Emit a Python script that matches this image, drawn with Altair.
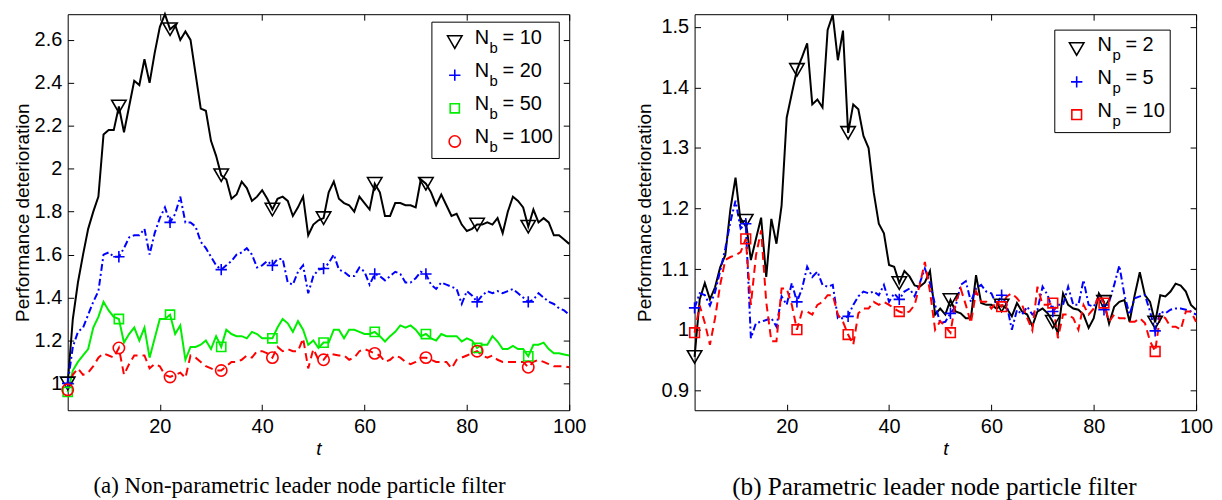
import altair as alt
import pandas as pd

T = list(range(2, 101))

NB10 = [1.00, 1.30, 1.47, 1.60, 1.72, 1.80, 1.87, 2.16, 2.18, 2.18,
        2.29, 2.17, 2.29, 2.41, 2.39, 2.51, 2.40, 2.54, 2.66, 2.72,
        2.65, 2.67, 2.60, 2.64, 2.60, 2.44, 2.28, 2.27, 2.13, 2.06,
        1.97, 1.95, 1.86, 1.88, 1.94, 1.91, 1.85, 1.87, 1.90, 1.86,
        1.81, 1.86, 1.87, 1.85, 1.78, 1.82, 1.87, 1.69, 1.74, 1.76,
        1.77, 1.89, 1.94, 1.86, 1.84, 1.83, 1.80, 1.87, 1.84, 1.81,
        1.93, 1.89, 1.78, 1.78, 1.84, 1.84, 1.83, 1.83, 1.82, 1.95,
        1.93, 1.89, 1.83, 1.88, 1.83, 1.78, 1.79, 1.74, 1.71, 1.72,
        1.74, 1.74, 1.75, 1.74, 1.77, 1.70, 1.80, 1.87, 1.85, 1.82,
        1.73, 1.81, 1.75, 1.77, 1.75, 1.69, 1.69, 1.67, 1.65]

NB20 = [1.00, 1.17, 1.24, 1.26, 1.32, 1.38, 1.43, 1.60, 1.61, 1.59,
        1.59, 1.63, 1.68, 1.69, 1.69, 1.72, 1.60, 1.70, 1.77, 1.82,
        1.75, 1.79, 1.87, 1.75, 1.75, 1.73, 1.66, 1.63, 1.59, 1.55,
        1.53, 1.55, 1.57, 1.60, 1.61, 1.63, 1.60, 1.54, 1.55, 1.57,
        1.55, 1.58, 1.58, 1.47, 1.46, 1.52, 1.55, 1.42, 1.50, 1.53,
        1.535, 1.56, 1.60, 1.53, 1.52, 1.50, 1.50, 1.54, 1.52, 1.46,
        1.51, 1.50, 1.48, 1.50, 1.52, 1.51, 1.47, 1.47, 1.49, 1.52,
        1.51, 1.46, 1.44, 1.47, 1.46, 1.45, 1.44, 1.37, 1.43, 1.41,
        1.38, 1.41, 1.43, 1.42, 1.43, 1.42, 1.43, 1.44, 1.42, 1.40,
        1.38, 1.39, 1.42, 1.40, 1.38, 1.37, 1.35, 1.34, 1.32]

NB50 = [0.96, 1.06, 1.10, 1.13, 1.16, 1.26, 1.31, 1.38, 1.34, 1.31,
        1.30, 1.19, 1.23, 1.26, 1.20, 1.26, 1.12, 1.21, 1.30, 1.30,
        1.32, 1.23, 1.27, 1.11, 1.17, 1.17, 1.18, 1.20, 1.16, 1.22,
        1.17, 1.25, 1.23, 1.22, 1.22, 1.21, 1.24, 1.23, 1.21, 1.21,
        1.21, 1.26, 1.30, 1.28, 1.24, 1.29, 1.25, 1.18, 1.20, 1.165,
        1.19, 1.19, 1.25, 1.25, 1.21, 1.25, 1.25, 1.24, 1.23, 1.23,
        1.24, 1.22, 1.195, 1.22, 1.24, 1.27, 1.26, 1.27, 1.25, 1.22,
        1.23, 1.21, 1.20, 1.23, 1.22, 1.22, 1.22, 1.195, 1.21, 1.20,
        1.165, 1.18, 1.18, 1.22, 1.195, 1.16, 1.16, 1.175, 1.16, 1.16,
        1.126, 1.18, 1.18, 1.19, 1.16, 1.14, 1.14, 1.135, 1.13]

NB100 = [0.97, 1.04, 1.07, 1.04, 1.05, 1.08, 1.12, 1.14, 1.13, 1.12,
         1.165, 1.04, 1.09, 1.13, 1.13, 1.13, 1.07, 1.09, 1.08, 1.04,
         1.03, 1.04, 1.05, 1.025, 1.13, 1.12, 1.10, 1.08, 1.07, 1.06,
         1.06, 1.08, 1.10, 1.10, 1.11, 1.13, 1.12, 1.15, 1.15, 1.14,
         1.12, 1.17, 1.15, 1.16, 1.15, 1.15, 1.21, 1.07, 1.16, 1.11,
         1.11, 1.14, 1.135, 1.13, 1.13, 1.11, 1.12, 1.15, 1.16, 1.15,
         1.14, 1.13, 1.10, 1.11, 1.13, 1.12, 1.10, 1.09, 1.10, 1.12,
         1.12, 1.11, 1.10, 1.10, 1.10, 1.07, 1.11, 1.12, 1.13, 1.14,
         1.15, 1.13, 1.12, 1.13, 1.11, 1.10, 1.10, 1.10, 1.10, 1.10,
         1.075, 1.10, 1.11, 1.10, 1.09, 1.08, 1.08, 1.08, 1.075]

NP2 = [0.955, 1.05, 1.077, 1.05, 1.07, 1.103, 1.123, 1.199, 1.251, 1.178,
       1.18, 1.115, 1.15, 1.185, 1.087, 1.183, 1.142, 1.205, 1.35, 1.39,
       1.429, 1.45, 1.473, 1.372, 1.38, 1.367, 1.495, 1.52, 1.445, 1.494,
       1.325, 1.372, 1.364, 1.32, 1.30, 1.227, 1.175, 1.159, 1.107, 1.104,
       1.077, 1.097, 1.088, 1.073, 1.071, 1.078, 1.097, 1.025, 1.035, 1.025,
       1.049, 1.03, 1.027, 1.019, 1.019, 1.09, 1.044, 1.041, 1.041, 1.035,
       1.04, 1.035, 1.022, 1.044, 1.03, 1.025, 1.006, 1.03, 1.035, 1.027,
       1.013, 0.995, 1.06, 1.041, 1.035, 1.033, 1.025, 1.003, 1.019, 1.06,
       1.046, 1.01, 1.038, 1.046, 1.049, 1.013, 1.057, 1.095, 1.057, 1.046,
       1.012, 1.057, 1.055, 1.063, 1.076, 1.073, 1.063, 1.041, 1.033]

NP5 = [1.036, 1.06, 1.057, 1.04, 1.062, 1.097, 1.134, 1.178, 1.213, 1.167,
       1.175, 0.986, 1.011, 1.013, 1.016, 1.019, 1.005, 1.055, 1.041, 1.077,
       1.046, 1.068, 1.104, 1.087, 1.096, 1.074, 1.071, 1.074, 1.019, 1.019,
       1.022, 1.041, 1.055, 1.063, 1.06, 1.063, 1.057, 1.074, 1.046, 1.06,
       1.05, 1.063, 1.068, 1.055, 1.077, 1.101, 1.077, 1.041, 1.011, 1.013,
       1.027, 1.038, 1.074, 1.08, 1.046, 1.068, 1.074, 1.063, 1.06, 1.041,
       1.057, 1.041, 1.0, 1.033, 1.025, 1.038, 1.025, 1.033, 1.071, 1.057,
       1.03, 1.041, 1.041, 1.071, 1.041, 1.041, 1.082, 1.041, 1.038, 1.055,
       1.033, 1.046, 1.074, 1.106, 1.057, 1.025, 1.052, 1.055, 1.057, 1.03,
       0.998, 1.03, 1.027, 1.033, 1.035, 1.035, 1.033, 1.03, 1.025]

NP10 = [0.995, 1.04, 1.011, 0.975, 1.019, 1.074, 1.115, 1.12, 1.123, 1.128,
        1.15, 1.041, 1.123, 1.164, 1.046, 0.981, 0.981, 1.068, 1.068, 1.041,
        1.0, 1.03, 1.03, 1.025, 1.041, 1.046, 1.057, 1.057, 1.025, 1.013,
        0.992, 0.975, 1.027, 1.035, 1.035, 1.046, 1.041, 1.046, 1.041, 1.035,
        1.03, 1.027, 1.03, 1.041, 1.074, 1.112, 1.063, 1.0, 1.014, 1.005,
        0.995, 1.046, 1.068, 1.041, 1.011, 1.063, 1.046, 1.046, 1.035, 1.046,
        1.038, 1.055, 1.06, 1.052, 1.041, 1.019, 0.999, 1.071, 1.041, 1.041,
        1.044, 0.986, 1.025, 1.025, 1.019, 1.0, 1.041, 1.025, 1.035, 1.057,
        1.044, 1.013, 1.025, 1.019, 1.019, 1.013, 1.013, 1.019, 1.011, 0.981,
        0.964, 1.025, 1.019, 1.005, 1.005, 1.0, 1.03, 1.03, 1.013]

LEFT_NAMES = ["Nb10", "Nb20", "Nb50", "Nb100"]
RIGHT_NAMES = ["Np2", "Np5", "Np10"]
LEFT_LABELS = ["= 10", "= 20", "= 50", "= 100"]
RIGHT_LABELS = ["= 2", "= 5", "= 10"]
XTICKS = [20, 40, 60, 80, 100]
LEFT_YTICKS = [1, 1.2, 1.4, 1.6, 1.8, 2, 2.2, 2.4, 2.6]
RIGHT_YTICKS = [0.9, 1, 1.1, 1.2, 1.3, 1.4, 1.5]
LEFT_YDOM = [0.875, 2.72]
RIGHT_YDOM = [0.867, 1.521]
CAPTIONS = ["(a) Non-parametric leader node particle filter",
            "(b) Parametric leader node particle filter"]

SANS = "Liberation Sans"
SERIF = "Liberation Serif"
PLUS = "M-1,0L1,0M0,-1L0,1"
W, H = 504, 398
TICK_FS = 20
TITLE_FS = 19
LEG_FS = 20

TRI = dict(color="#000000", shape="triangle-down", size=210, dash=None)
CROSS = dict(color="#0000ff", shape=PLUS, size=130, dash=[7, 3, 2, 3])
SQ_G = dict(color="#00ee00", shape="square", size=85, dash=None)
CIRC = dict(color="#ff0000", shape="circle", size=130, dash=[8, 5])
SQ_R = dict(color="#ff0000", shape="square", size=95, dash=[8, 5])


def make_df(series, names):
    rows = []
    for name, vals in zip(names, series):
        for t, v in zip(T, vals):
            rows.append({"t": t, "v": v, "s": name})
    return pd.DataFrame(rows)


def axes(yticks, ytitle_pad):
    common = dict(tickColor="black", tickWidth=1, tickSize=6, offset=-6, domain=False,
                  labelFont=SANS, labelFontSize=TICK_FS, labelColor="black", grid=False,
                  labelFlush=False, labelOverlap=False)
    bottom = alt.Axis(orient="bottom", values=XTICKS, title="t", titleFont=SANS,
                      titleFontSize=TITLE_FS, titleFontStyle="italic", titleFontWeight="normal",
                      titleColor="black", labelPadding=6, titlePadding=3, **common)
    left = alt.Axis(orient="left", values=yticks, format="~g", title="Performance deterioration",
                    titleFont=SANS, titleFontSize=TITLE_FS, titleFontWeight="normal",
                    titleColor="black", labelPadding=6, titlePadding=ytitle_pad, **common)
    top = alt.Axis(orient="top", values=XTICKS, labels=False, title="", tickColor="black",
                   tickWidth=1, tickSize=6, offset=-6, domain=False, grid=False)
    right = alt.Axis(orient="right", values=yticks, labels=False, title="", tickColor="black",
                     tickWidth=1, tickSize=6, offset=-6, domain=False, grid=False)
    return bottom, left, top, right


def panel(series, names, styles, ydom, yticks, sub, labels, leg, caption, cap_dx, cap_fs,
          ytitle_pad):
    df = make_df(series, names)
    xs = alt.Scale(domain=[2, 100], nice=False, zero=False)
    ys = alt.Scale(domain=ydom, nice=False, zero=False)
    bottom, left, top, right = axes(yticks, ytitle_pad)
    layers = []
    for i, (name, st) in enumerate(zip(names, styles)):
        kw = dict(color=st["color"], strokeWidth=2)
        if st["dash"]:
            kw["strokeDash"] = st["dash"]
        line = alt.Chart(df).transform_filter(alt.datum.s == name).mark_line(**kw).encode(
            x=alt.X("t:Q", scale=xs, axis=bottom if i == 0 else None),
            y=alt.Y("v:Q", scale=ys, axis=left if i == 0 else None),
        )
        layers.append(line)
    for i, (name, st) in enumerate(zip(names, styles)):
        pts = alt.Chart(df).transform_filter(
            f"datum.s == '{name}' && (datum.t - 2) % 10 == 0"
        ).mark_point(shape=st["shape"], size=st["size"], filled=False, color=st["color"],
                     strokeWidth=1.6, opacity=1).encode(
            x=alt.X("t:Q", scale=xs, axis=top if i == 0 else None),
            y=alt.Y("v:Q", scale=ys, axis=right if i == 0 else None),
        )
        layers.append(pts)

    one = pd.DataFrame({"k": [0]})
    bx0, bx1, by0, by1 = leg["box"]
    layers.append(alt.Chart(one).mark_rect(fill="white", stroke="black", strokeWidth=1).encode(
        x=alt.value(bx0), x2=alt.value(bx1), y=alt.value(by0), y2=alt.value(by1)))
    for i, (st, lab) in enumerate(zip(styles, labels)):
        ry = leg["y0"] + i * leg["dy"]
        layers.append(alt.Chart(one).mark_point(shape=st["shape"], size=st["size"], filled=False,
                                                color=st["color"], strokeWidth=1.6, opacity=1).encode(
            x=alt.value(leg["sx"]), y=alt.value(ry + leg["sdy"])))
        layers.append(alt.Chart(one).mark_text(text="N", align="left", baseline="middle",
                                               font=SANS, fontSize=LEG_FS, color="black").encode(
            x=alt.value(leg["nx"]), y=alt.value(ry)))
        layers.append(alt.Chart(one).mark_text(text=sub, align="left", baseline="middle",
                                               font=SANS, fontSize=LEG_FS - 5, color="black").encode(
            x=alt.value(leg["nx"] + 15), y=alt.value(ry + 10)))
        layers.append(alt.Chart(one).mark_text(text=lab, align="left", baseline="middle",
                                               font=SANS, fontSize=LEG_FS, color="black").encode(
            x=alt.value(leg["nx"] + 28), y=alt.value(ry)))

    return alt.layer(*layers).resolve_axis(x="independent", y="independent").properties(
        width=W, height=H,
        title=alt.TitleParams(caption, orient="bottom", anchor="middle", font=SERIF,
                              fontSize=cap_fs, fontWeight="normal", color="black",
                              offset=17, dx=cap_dx),
    )


left_leg = dict(box=(366, 494, 8, 145), y0=24, dy=33.3, sx=389, sdy=4, nx=409)
right_leg = dict(box=(362, 478, 16, 119), y0=31, dy=33, sx=384, sdy=4, nx=405)

left_chart = panel([NB10, NB20, NB50, NB100], LEFT_NAMES, [TRI, CROSS, SQ_G, CIRC],
                   LEFT_YDOM, LEFT_YTICKS, "b", LEFT_LABELS, left_leg, CAPTIONS[0], -19, 23, 2)
right_chart = panel([NP2, NP5, NP10], RIGHT_NAMES, [TRI, CROSS, SQ_R],
                    RIGHT_YDOM, RIGHT_YTICKS, "p", RIGHT_LABELS, right_leg, CAPTIONS[1], -11, 25.3, 6)

chart = alt.hconcat(left_chart, right_chart, spacing=48).properties(
    padding={"left": 4, "top": 0, "right": 0, "bottom": 0},
    background="white",
).configure_view(stroke="black", strokeWidth=1)

chart.save("out.html", embed_options={"renderer": "svg", "actions": False})
